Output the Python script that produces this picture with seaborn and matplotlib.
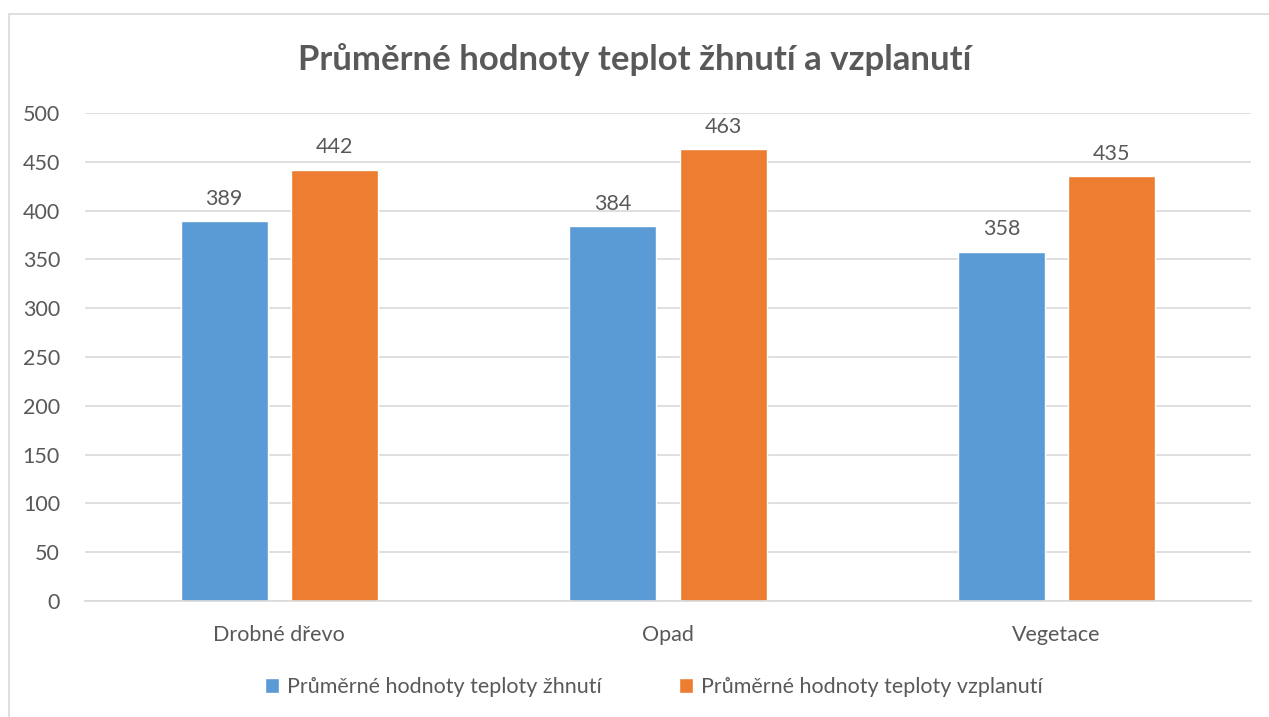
import pandas as pd
import seaborn as sns
import matplotlib.pyplot as plt
from matplotlib.patches import Rectangle

# Datos
kategorie = ["Drobné dřevo", "Opad", "Vegetace"]
zhnuti = [389, 384, 358]
vzplanuti = [442, 463, 435]
serie = ["Průměrné hodnoty teploty žhnutí", "Průměrné hodnoty teploty vzplanutí"]
barvy = ["#5B9BD5", "#ED7D31"]

df = pd.DataFrame({
    "kategorie": kategorie * 2,
    "hodnota": zhnuti + vzplanuti,
    "serie": [serie[0]] * 3 + [serie[1]] * 3,
})

sns.set_theme(style="white")
plt.rcParams["font.family"] = ["Lato", "DejaVu Sans"]
text_barva = "#595959"

fig = plt.figure(figsize=(12.69, 7.17), dpi=100)
ax = fig.add_axes([85 / 1269, 1 - 601 / 717, (1251 - 85) / 1269, 488 / 717])

sns.barplot(data=df, x="kategorie", y="hodnota", hue="serie", palette=barvy,
            saturation=1, width=0.567, gap=0.21, ax=ax, legend=True)

ax.set_ylim(0, 500)
ax.set_xlim(-0.5, 2.5)
ax.set_yticks(range(0, 501, 50))
ax.yaxis.grid(True, color="#D9D9D9", linewidth=1.2)
ax.set_axisbelow(True)
for s in ["top", "right", "left"]:
    ax.spines[s].set_visible(False)
ax.spines["bottom"].set_color("#D9D9D9")
ax.spines["bottom"].set_linewidth(1.2)
ax.tick_params(axis="both", length=0, labelsize=15.5, colors=text_barva)
ax.tick_params(axis="x", pad=17)
ax.tick_params(axis="y", pad=18)
ax.set_xlabel("")
ax.set_ylabel("")

for cont in ax.containers:
    ax.bar_label(cont, padding=9, fontsize=15.5, color=text_barva)

leg = ax.legend(loc="center", bbox_to_anchor=(0.488, -0.176), ncol=2,
                frameon=False, fontsize=15.5, handlelength=0.65, handleheight=0.65,
                handletextpad=0.35, columnspacing=3.6)
for t in leg.get_texts():
    t.set_color(text_barva)

fig.suptitle("Průměrné hodnoty teplot žhnutí a vzplanutí", y=1 - 60 / 717,
             va="center", fontsize=25, fontweight="bold", color=text_barva)

# rámeček grafu
fig.patches.append(Rectangle((8.5 / 1269, -0.01), 1.1, 1 - 13.5 / 717 + 0.01,
                             transform=fig.transFigure, fill=False,
                             edgecolor="#D9D9D9", linewidth=1.2))

plt.savefig("out.png", dpi=100)
